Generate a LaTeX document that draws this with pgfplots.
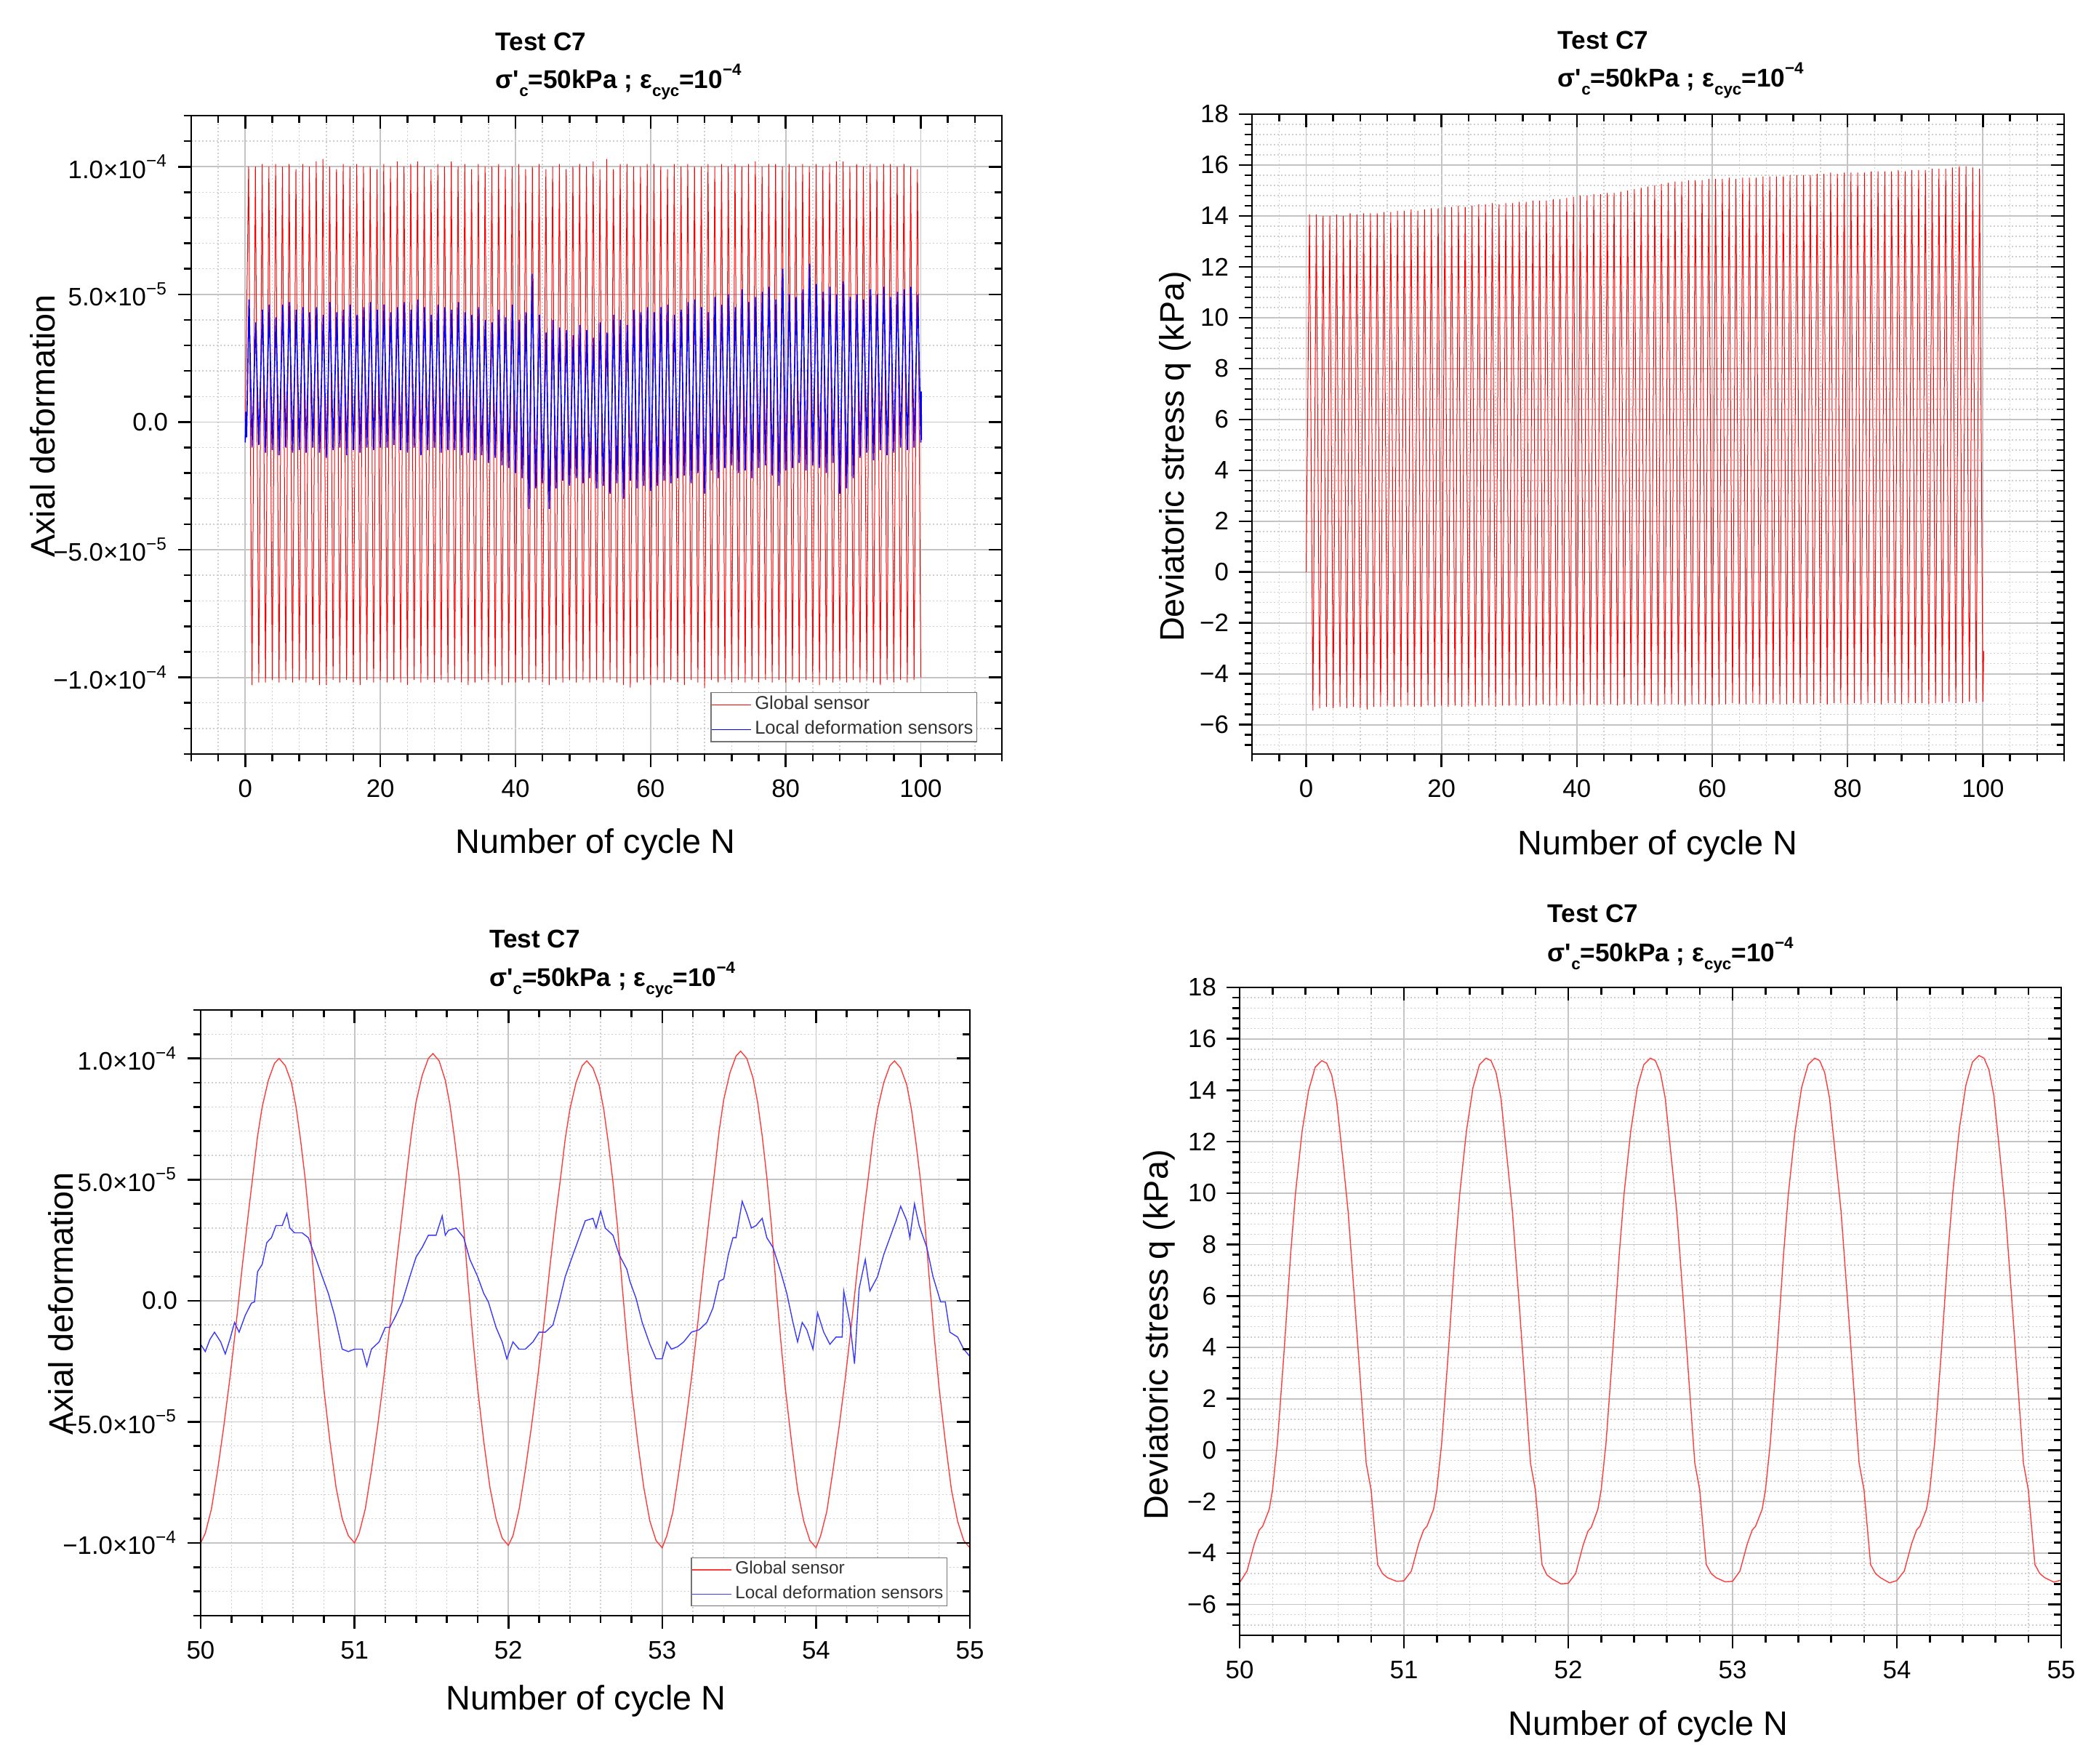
\documentclass[border=0pt]{standalone}
\usepackage{fontspec}
\setmainfont{Liberation Sans}
\usepackage{pgfplots}
\pgfplotsset{compat=1.18}

\definecolor{majgrid}{HTML}{C4C4C4}
\definecolor{mingrid}{HTML}{CFCFCF}
\definecolor{zred}{HTML}{FF3C3C}
\definecolor{zblue}{HTML}{3A3AFF}

\pgfplotsset{
  common/.style={
    scale only axis,
    axis line style={line width=0.65pt, black},
    every tick/.style={line width=0.65pt, black},
    major tick length=4.5pt,
    minor tick length=2.6pt,
    tick label style={font=\fontsize{8.7}{10}\selectfont},
    xticklabel style={yshift=-0.8pt},
    /pgf/number format/assume math mode=true,
  },
  base/.style={
    common,
    tick align=outside,
    xtick pos=bottom, ytick pos=left,
    grid=both,
    major grid style={line width=0.45pt, majgrid},
    minor grid style={line width=0.35pt, mingrid, dash pattern=on 0.45pt off 0.8pt},
    legend cell align=left,
    legend image code/.code={\draw[#1] (0pt,0pt) -- (13.5pt,0pt);},
  },
  over/.style={
    common,
    tick align=inside,
    xtick pos=top, ytick pos=right,
    xticklabels={}, yticklabels={},
    grid=none,
  },
  tlax/.style={
    at={(65.75pt,347.25pt)}, anchor=south west, width=278.75pt, height=219.5pt,
    xmin=-8, xmax=112, ymin=-13, ymax=12,
    xtick={0,20,...,100}, minor xtick={-8,-4,...,112},
    ytick={-10,-5,0,5,10},
    yticklabels={−1.0×10\textsuperscript{−4},−5.0×10\textsuperscript{−5},0.0,5.0×10\textsuperscript{−5},1.0×10\textsuperscript{−4}},
    minor ytick={-13,-12,...,12},
  },
  trax/.style={
    at={(430.5pt,347.25pt)}, anchor=south west, width=279.25pt, height=220pt,
    xmin=-8, xmax=112, ymin=-7.15, ymax=18,
    xtick={0,20,...,100}, minor xtick={-8,-4,...,112},
    ytick={-6,-4,...,18},
    yticklabels={−6,−4,−2,0,2,4,6,8,10,12,14,16,18},
    minor ytick={-6.8,-6.4,...,17.7},
  },
  blax/.style={
    at={(69pt,51pt)}, anchor=south west, width=264.5pt, height=208.25pt,
    xmin=50, xmax=55, ymin=-13, ymax=12,
    xtick={50,51,...,55}, minor xtick={50.2,50.4,...,54.9},
    ytick={-10,-5,0,5,10},
    yticklabels={−1.0×10\textsuperscript{−4},−5.0×10\textsuperscript{−5},0.0,5.0×10\textsuperscript{−5},1.0×10\textsuperscript{−4}},
    minor ytick={-13,-12,...,12},
  },
  brax/.style={
    at={(426.25pt,44.25pt)}, anchor=south west, width=282.5pt, height=222.75pt,
    xmin=50, xmax=55, ymin=-7.2, ymax=18,
    xtick={50,51,...,55}, minor xtick={50.2,50.4,...,54.9},
    ytick={-6,-4,...,18},
    yticklabels={−6,−4,−2,0,2,4,6,8,10,12,14,16,18},
    minor ytick={-6.8,-6.4,...,17.7},
  },
}

\newcommand{\ttl}{\bfseries\fontsize{8.8}{10}\selectfont}
\newcommand{\axl}{\fontsize{11.7}{13}\selectfont}
\newcommand{\sbs}[1]{\raisebox{-0.32em}{\fontsize{5.6}{6}\selectfont #1}}
\newcommand{\sps}[1]{\raisebox{0.5em}{\fontsize{5.6}{6}\selectfont #1}}
\newcommand{\subttl}{σ\textquotesingle\sbs{c}=50kPa ; ε\sbs{cyc}=10\sps{−4}}

\begin{document}
\begin{tikzpicture}
\useasboundingbox (0,0) rectangle (721.75pt,606.5pt);

% ---------------- top left ----------------
\begin{axis}[base, tlax,
  legend style={at={(0.9695,0.0968)}, anchor=north east, draw=black!55, line width=0.35pt,
    font=\fontsize{6.4}{7.2}\selectfont, text=black!80, inner xsep=0pt, inner ysep=0.5pt,
    row sep=1.2pt, nodes={inner xsep=1.2pt, inner ysep=0.6pt}}]
\addplot[red, line width=0.25pt] coordinates {
(0,0)
(0.5,10.0)(1,-10.3)(1.5,10.0)(2,-10.2)(2.5,10.1)(3,-10.2)(3.5,10.0)(4,-10.1)(4.5,10.1)(5,-10.2)(5.5,10.0)(6,-10.1)(6.5,10.1)(7,-10.2)(7.5,9.9)(8,-10.1)(8.5,10.1)(9,-10.2)(9.5,10.0)(10,-10.1)
(10.5,10.2)(11,-10.3)(11.5,10.3)(12,-10.3)(12.5,10.0)(13,-10.1)(13.5,9.9)(14,-10.2)(14.5,10.1)(15,-10.1)(15.5,10.0)(16,-10.2)(16.5,10.1)(17,-10.3)(17.5,10.0)(18,-10.1)(18.5,10.0)(19,-10.2)(19.5,9.9)(20,-10.1)
(20.5,10.1)(21,-10.2)(21.5,10.0)(22,-10.1)(22.5,10.2)(23,-10.2)(23.5,10.0)(24,-10.3)(24.5,10.1)(25,-10.1)(25.5,10.2)(26,-10.2)(26.5,10.0)(27,-10.1)(27.5,9.9)(28,-10.2)(28.5,10.1)(29,-10.1)(29.5,10.0)(30,-10.2)
(30.5,10.2)(31,-10.1)(31.5,10.0)(32,-10.2)(32.5,10.1)(33,-10.3)(33.5,9.9)(34,-10.2)(34.5,10.1)(35,-10.1)(35.5,10.0)(36,-10.2)(36.5,10.0)(37,-10.1)(37.5,10.1)(38,-10.3)(38.5,9.9)(39,-10.2)(39.5,10.0)(40,-10.2)
(40.5,10.1)(41,-10.1)(41.5,9.9)(42,-10.2)(42.5,10.0)(43,-10.1)(43.5,10.1)(44,-10.2)(44.5,9.9)(45,-10.3)(45.5,10.0)(46,-10.1)(46.5,10.1)(47,-10.2)(47.5,9.9)(48,-10.1)(48.5,10.0)(49,-10.2)(49.5,10.1)(50,-10.1)
(50.5,10.0)(51,-10.2)(51.5,10.2)(52,-10.1)(52.5,9.9)(53,-10.2)(53.5,10.3)(54,-10.1)(54.5,9.9)(55,-10.2)(55.5,10.1)(56,-10.3)(56.5,10.1)(57,-10.4)(57.5,10.0)(58,-10.2)(58.5,10.0)(59,-10.1)(59.5,10.1)(60,-10.3)
(60.5,10.1)(61,-10.1)(61.5,10.0)(62,-10.2)(62.5,9.9)(63,-10.1)(63.5,10.1)(64,-10.2)(64.5,10.0)(65,-10.3)(65.5,10.1)(66,-10.1)(66.5,10.0)(67,-10.2)(67.5,10.0)(68,-10.4)(68.5,10.1)(69,-10.1)(69.5,10.0)(70,-10.2)
(70.5,10.1)(71,-10.1)(71.5,10.0)(72,-10.2)(72.5,10.1)(73,-10.1)(73.5,10.0)(74,-10.2)(74.5,10.1)(75,-10.1)(75.5,10.2)(76,-10.2)(76.5,10.0)(77,-10.1)(77.5,10.1)(78,-10.2)(78.5,10.1)(79,-10.1)(79.5,10.0)(80,-10.2)
(80.5,10.1)(81,-10.1)(81.5,10.0)(82,-10.2)(82.5,10.1)(83,-10.1)(83.5,10.0)(84,-10.2)(84.5,10.1)(85,-10.3)(85.5,10.0)(86,-10.1)(86.5,10.1)(87,-10.2)(87.5,10.2)(88,-10.1)(88.5,10.2)(89,-10.2)(89.5,10.0)(90,-10.1)
(90.5,10.1)(91,-10.2)(91.5,10.0)(92,-10.1)(92.5,10.1)(93,-10.2)(93.5,10.0)(94,-10.3)(94.5,10.1)(95,-10.1)(95.5,10.1)(96,-10.2)(96.5,10.0)(97,-10.1)(97.5,10.1)(98,-10.2)(98.5,10.0)(99,-10.1)(99.5,9.9)(100,-10.0)
};
\addlegendentry{Global sensor}
\addplot[blue, line width=0.4pt] coordinates {
(0,-0.8)(0.1,0.4)(0.2,-0.6)
(0.55,4.8)(1,-1.0)(1.55,3.9)(2,-0.9)(2.55,4.4)(3,-1.2)(3.55,4.6)(4,-1.1)(4.55,4.1)(5,-1.3)(5.55,4.6)(6,-1.0)(6.55,4.7)(7,-1.2)(7.55,4.4)(8,-1.1)(8.55,4.5)(9,-1.2)(9.55,4.3)(10,-1.0)
(10.55,4.5)(11,-1.2)(11.55,4.2)(12,-1.4)(12.55,4.7)(13,-1.1)(13.55,4.3)(14,-1.0)(14.55,4.4)(15,-1.3)(15.55,4.6)(16,-1.1)(16.55,4.2)(17,-1.2)(17.55,4.5)(18,-1.0)(18.55,4.7)(19,-1.1)(19.55,4.4)(20,-1.0)
(20.55,4.6)(21,-1.0)(21.55,4.3)(22,-0.9)(22.55,4.5)(23,-1.1)(23.55,4.7)(24,-1.2)(24.55,4.4)(25,-1.0)(25.55,4.8)(26,-1.3)(26.55,4.5)(27,-1.1)(27.55,4.2)(28,-1.0)(28.55,4.6)(29,-1.2)(29.55,4.5)(30,-1.1)
(30.55,4.4)(31,-1.1)(31.55,4.7)(32,-1.3)(32.55,4.3)(33,-1.2)(33.55,4.2)(34,-1.5)(34.55,4.5)(35,-1.3)(35.55,4.0)(36,-1.6)(36.55,3.9)(37,-1.4)(37.55,4.4)(38,-1.7)(38.55,4.1)(39,-1.8)(39.55,4.6)(40,-2.0)
(40.55,4.0)(41,-2.2)(41.55,4.3)(42,-3.4)(42.45,5.8)(43,-2.6)(43.55,4.2)(44,-2.4)(44.55,3.5)(45,-3.4)(45.55,4.0)(46,-2.6)(46.55,3.7)(47,-2.3)(47.55,3.6)(48,-2.5)(48.55,3.4)(49,-2.2)(49.55,3.8)(50,-2.4)
(50.55,3.6)(51,-2.2)(51.55,3.3)(52,-2.6)(52.55,3.9)(53,-2.5)(53.55,3.5)(54,-2.8)(54.55,4.2)(55,-2.4)(55.55,4.0)(56,-3.0)(56.55,3.8)(57,-2.3)(57.55,4.4)(58,-2.6)(58.55,4.3)(59,-2.5)(59.55,4.5)(60,-2.7)
(60.55,4.3)(61,-2.5)(61.55,4.5)(62,-2.3)(62.55,4.6)(63,-2.4)(63.55,4.2)(64,-2.2)(64.55,4.4)(65,-2.1)(65.55,4.7)(66,-2.4)(66.55,4.8)(67,-2.0)(67.55,4.5)(68,-2.8)(68.55,4.3)(69,-1.9)(69.55,4.9)(70,-2.2)
(70.55,4.6)(71,-1.8)(71.55,5.0)(72,-1.7)(72.55,4.5)(73,-2.0)(73.55,5.2)(74,-1.9)(74.55,4.7)(75,-2.2)(75.55,4.9)(76,-1.8)(76.55,5.1)(77,-1.7)(77.55,5.3)(78,-2.1)(78.55,4.8)(79,-2.5)(79.55,6.0)(80,-1.9)
(80.55,5.0)(81,-1.8)(81.55,4.9)(82,-1.6)(82.55,5.2)(83,-1.9)(83.55,6.2)(84,-1.7)(84.55,5.4)(85,-1.8)(85.55,5.1)(86,-2.0)(86.55,5.3)(87,-1.6)(87.55,5.0)(88,-2.8)(88.55,5.5)(89,-2.6)(89.55,4.9)(90,-2.2)
(90.55,5.0)(91,-1.4)(91.55,4.8)(92,-1.2)(92.55,5.2)(93,-1.5)(93.55,5.0)(94,-1.1)(94.55,5.3)(95,-1.3)(95.55,4.9)(96,-1.2)(96.55,5.1)(97,-1.0)(97.55,5.2)(98,-1.1)(98.55,5.3)(99,-1.0)(99.55,5.0)(100,-0.8)
(100.05,1.2)(100.1,-0.7)
};
\addlegendentry{Local deformation sensors}
\end{axis}
\begin{axis}[tlax, over]\end{axis}

% ---------------- top right ----------------
\begin{axis}[base, trax]
\addplot[red, line width=0.25pt] coordinates {
(0,0)
(0.5,14.05)(1,-5.45)(1.5,14.05)(2,-5.35)(2.5,14.0)(3,-5.3)(3.5,14.0)(4,-5.35)(4.5,14.05)(5,-5.3)(5.5,14.0)(6,-5.35)(6.5,14.1)(7,-5.3)(7.5,14.05)(8,-5.35)(8.5,14.1)(9,-5.4)(9.5,14.1)(10,-5.3)
(10.5,14.1)(11,-5.3)(11.5,14.15)(12,-5.25)(12.5,14.15)(13,-5.3)(13.5,14.2)(14,-5.3)(14.5,14.2)(15,-5.25)(15.5,14.25)(16,-5.3)(16.5,14.2)(17,-5.3)(17.5,14.25)(18,-5.25)(18.5,14.3)(19,-5.3)(19.5,14.3)(20,-5.25)
(20.5,14.35)(21,-5.3)(21.5,14.35)(22,-5.25)(22.5,14.4)(23,-5.3)(23.5,14.35)(24,-5.25)(24.5,14.4)(25,-5.3)(25.5,14.45)(26,-5.25)(26.5,14.45)(27,-5.25)(27.5,14.5)(28,-5.3)(28.5,14.45)(29,-5.25)(29.5,14.5)(30,-5.25)
(30.5,14.5)(31,-5.25)(31.5,14.55)(32,-5.3)(32.5,14.55)(33,-5.25)(33.5,14.6)(34,-5.25)(34.5,14.6)(35,-5.2)(35.5,14.6)(36,-5.25)(36.5,14.65)(37,-5.25)(37.5,14.65)(38,-5.2)(38.5,14.7)(39,-5.25)(39.5,14.75)(40,-5.2)
(40.5,14.8)(41,-5.25)(41.5,14.8)(42,-5.2)(42.5,14.85)(43,-5.25)(43.5,14.85)(44,-5.2)(44.5,14.9)(45,-5.2)(45.5,14.9)(46,-5.25)(46.5,14.95)(47,-5.2)(47.5,15.0)(48,-5.2)(48.5,15.05)(49,-5.25)(49.5,15.1)(50,-5.2)
(50.5,15.15)(51,-5.2)(51.5,15.2)(52,-5.25)(52.5,15.25)(53,-5.2)(53.5,15.3)(54,-5.2)(54.5,15.35)(55,-5.2)(55.5,15.35)(56,-5.25)(56.5,15.4)(57,-5.2)(57.5,15.4)(58,-5.2)(58.5,15.4)(59,-5.2)(59.5,15.45)(60,-5.25)
(60.5,15.45)(61,-5.2)(61.5,15.45)(62,-5.2)(62.5,15.5)(63,-5.15)(63.5,15.45)(64,-5.2)(64.5,15.5)(65,-5.2)(65.5,15.5)(66,-5.15)(66.5,15.5)(67,-5.2)(67.5,15.55)(68,-5.2)(68.5,15.55)(69,-5.15)(69.5,15.55)(70,-5.2)
(70.5,15.55)(71,-5.2)(71.5,15.6)(72,-5.15)(72.5,15.6)(73,-5.2)(73.5,15.6)(74,-5.15)(74.5,15.6)(75,-5.2)(75.5,15.65)(76,-5.15)(76.5,15.65)(77,-5.2)(77.5,15.7)(78,-5.15)(78.5,15.65)(79,-5.15)(79.5,15.7)(80,-5.2)
(80.5,15.7)(81,-5.15)(81.5,15.7)(82,-5.2)(82.5,15.7)(83,-5.15)(83.5,15.75)(84,-5.15)(84.5,15.75)(85,-5.2)(85.5,15.75)(86,-5.15)(86.5,15.75)(87,-5.15)(87.5,15.8)(88,-5.2)(88.5,15.75)(89,-5.15)(89.5,15.8)(90,-5.15)
(90.5,15.8)(91,-5.15)(91.5,15.8)(92,-5.2)(92.5,15.85)(93,-5.15)(93.5,15.85)(94,-5.15)(94.5,15.85)(95,-5.1)(95.5,15.9)(96,-5.15)(96.5,15.95)(97,-5.15)(97.5,15.95)(98,-5.1)(98.5,15.9)(99,-5.15)(99.5,15.85)(100,-5.1)
(100.12,-3.1)
};
\end{axis}
\begin{axis}[trax, over]\end{axis}

% ---------------- bottom left ----------------
\begin{axis}[base, blax,
  legend style={at={(0.9707,0.096)}, anchor=north east, draw=black!55, line width=0.35pt,
    font=\fontsize{6.1}{7}\selectfont, text=black!80, inner xsep=0pt, inner ysep=0.5pt,
    row sep=1.2pt, nodes={inner xsep=1.2pt, inner ysep=0.6pt}}]
\addplot[zred, line width=0.35pt] coordinates {
(50,-10.0)(50.03,-9.6)(50.07,-8.6)(50.11,-7.0)(50.15,-5.2)(50.19,-3.2)(50.23,-1.0)(50.27,1.4)(50.31,3.6)(50.34,5.2)(50.37,6.8)(50.40,8.0)(50.44,9.1)(50.48,9.8)(50.51,10.0)(50.55,9.7)(50.59,9.0)(50.62,8.0)(50.65,6.6)(50.68,5.0)(50.71,3.0)(50.74,0.6)(50.77,-1.6)(50.80,-3.6)(50.84,-5.8)(50.88,-7.7)(50.92,-9.0)(50.96,-9.7)
(51,-10.0)(51.03,-9.6)(51.07,-8.6)(51.11,-7.0)(51.15,-5.2)(51.19,-3.2)(51.23,-1.0)(51.27,1.4)(51.31,3.6)(51.34,5.3)(51.37,6.9)(51.40,8.2)(51.44,9.3)(51.48,10.0)(51.51,10.2)(51.55,9.9)(51.59,9.1)(51.62,8.1)(51.65,6.7)(51.68,5.1)(51.71,3.0)(51.74,0.6)(51.77,-1.6)(51.80,-3.6)(51.84,-5.8)(51.88,-7.7)(51.92,-9.0)(51.96,-9.8)
(52,-10.1)(52.03,-9.7)(52.07,-8.6)(52.11,-7.0)(52.15,-5.2)(52.19,-3.2)(52.23,-1.0)(52.27,1.4)(52.31,3.6)(52.34,5.1)(52.37,6.7)(52.40,7.9)(52.44,9.0)(52.48,9.7)(52.51,9.9)(52.55,9.6)(52.59,8.9)(52.62,7.9)(52.65,6.5)(52.68,4.9)(52.71,3.0)(52.74,0.6)(52.77,-1.6)(52.80,-3.6)(52.84,-5.8)(52.88,-7.7)(52.92,-9.1)(52.96,-9.9)
(53,-10.2)(53.03,-9.7)(53.07,-8.7)(53.11,-7.0)(53.15,-5.2)(53.19,-3.2)(53.23,-1.0)(53.27,1.4)(53.31,3.7)(53.34,5.3)(53.37,7.0)(53.40,8.3)(53.44,9.4)(53.48,10.1)(53.51,10.3)(53.55,10.0)(53.59,9.2)(53.62,8.2)(53.65,6.8)(53.68,5.1)(53.71,3.1)(53.74,0.6)(53.77,-1.6)(53.80,-3.6)(53.84,-5.8)(53.88,-7.8)(53.92,-9.1)(53.96,-9.9)
(54,-10.2)(54.03,-9.7)(54.07,-8.7)(54.11,-7.0)(54.15,-5.2)(54.19,-3.2)(54.23,-1.0)(54.27,1.4)(54.31,3.6)(54.34,5.1)(54.37,6.7)(54.40,7.9)(54.44,9.0)(54.48,9.7)(54.51,9.9)(54.55,9.6)(54.59,8.9)(54.62,7.9)(54.65,6.5)(54.68,4.9)(54.71,3.0)(54.74,0.6)(54.77,-1.6)(54.80,-3.6)(54.84,-5.8)(54.88,-7.8)(54.92,-9.1)(54.96,-9.9)
(55,-10.2)
};
\addlegendentry{Global sensor}
\addplot[zblue, line width=0.35pt] coordinates {
(50.0,-1.8)(50.03,-2.1)(50.06,-1.6)(50.09,-1.3)(50.13,-1.7)(50.16,-2.2)(50.19,-1.6)(50.22,-0.9)(50.25,-1.3)(50.29,-0.6)(50.33,-0.1)(50.35,-0.05)(50.37,1.2)(50.40,1.5)(50.43,2.4)(50.46,2.6)(50.49,3.1)(50.53,3.1)(50.56,3.6)(50.58,3.0)(50.61,2.8)(50.66,2.8)(50.70,2.6)(50.74,1.9)(50.79,1.0)(50.83,0.3)(50.87,-0.6)(50.92,-2.0)(50.96,-2.1)
(51.0,-2.0)(51.05,-2.0)(51.08,-2.7)(51.11,-2.0)(51.16,-1.7)(51.20,-1.1)(51.23,-1.1)(51.27,-0.6)(51.31,-0.05)(51.36,1.0)(51.40,1.8)(51.44,2.2)(51.48,2.7)(51.53,2.7)(51.57,3.5)(51.59,2.7)(51.61,2.9)(51.66,3.0)(51.71,2.6)(51.75,1.7)(51.80,1.0)(51.84,0.3)(51.87,-0.05)(51.92,-1.1)(51.96,-1.7)(51.99,-2.4)
(52.03,-1.7)(52.07,-2.0)(52.11,-2.0)(52.16,-1.7)(52.20,-1.3)(52.24,-1.3)(52.29,-1.0)(52.33,-0.05)(52.37,1.0)(52.42,1.9)(52.46,2.6)(52.50,3.3)(52.55,3.4)(52.57,3.0)(52.60,3.7)(52.63,3.0)(52.68,2.7)(52.72,1.9)(52.77,1.3)(52.79,0.8)(52.83,0.1)(52.87,-0.9)(52.92,-1.8)(52.96,-2.4)
(53.0,-2.4)(53.03,-1.7)(53.06,-2.0)(53.10,-1.9)(53.14,-1.7)(53.19,-1.3)(53.24,-1.2)(53.29,-0.9)(53.33,-0.3)(53.37,0.8)(53.40,0.9)(53.43,1.9)(53.46,2.6)(53.48,2.6)(53.52,4.1)(53.55,3.6)(53.58,3.0)(53.61,3.1)(53.65,3.4)(53.68,2.6)(53.72,2.2)(53.77,1.2)(53.81,0.3)(53.85,-0.9)(53.88,-1.7)(53.91,-0.9)(53.94,-1.2)(53.98,-2.0)
(54.01,-0.5)(54.05,-1.3)(54.09,-1.8)(54.13,-1.5)(54.17,-1.5)(54.18,0.4)(54.22,-0.9)(54.25,-2.6)(54.28,0.5)(54.32,1.7)(54.35,0.4)(54.40,1.0)(54.44,1.9)(54.48,2.6)(54.52,3.3)(54.55,3.9)(54.59,3.3)(54.61,2.6)(54.64,4.0)(54.67,3.1)(54.72,2.2)(54.76,1.0)(54.81,-0.05)(54.84,-0.05)(54.87,-1.3)(54.92,-1.5)(54.96,-2.0)(55.0,-2.3)
};
\addlegendentry{Local deformation sensors}
\end{axis}
\begin{axis}[blax, over]\end{axis}

% ---------------- bottom right ----------------
\begin{axis}[base, brax]
\addplot[zred, line width=0.35pt] coordinates {
(50,-5.15)(50.045,-4.7)(50.09,-3.63)(50.12,-3.1)(50.14,-2.96)(50.18,-2.3)(50.20,-1.55)(50.23,0.3)(50.27,3.8)(50.31,7.6)(50.34,10.0)(50.38,12.4)(50.42,14.0)(50.46,14.9)(50.50,15.15)(50.53,15.05)(50.56,14.6)(50.59,13.6)(50.63,11.2)(50.66,9.3)(50.70,5.8)(50.74,2.2)(50.77,-0.5)(50.80,-1.55)(50.82,-3.0)(50.84,-4.45)(50.87,-4.8)(50.90,-4.96)(50.955,-5.1)
(51,-5.08)(51.045,-4.7)(51.09,-3.63)(51.12,-3.1)(51.14,-2.96)(51.18,-2.3)(51.20,-1.55)(51.23,0.3)(51.27,3.8)(51.31,7.6)(51.34,10.0)(51.38,12.4)(51.42,14.1)(51.46,15.0)(51.50,15.25)(51.53,15.15)(51.56,14.7)(51.59,13.7)(51.63,11.2)(51.66,9.3)(51.70,5.8)(51.74,2.2)(51.77,-0.5)(51.80,-1.55)(51.82,-3.0)(51.84,-4.45)(51.87,-4.85)(51.90,-5.0)(51.955,-5.2)
(52,-5.18)(52.045,-4.8)(52.09,-3.7)(52.12,-3.15)(52.14,-3.0)(52.18,-2.3)(52.20,-1.55)(52.23,0.3)(52.27,3.8)(52.31,7.6)(52.34,10.0)(52.38,12.4)(52.42,14.1)(52.46,15.0)(52.50,15.25)(52.53,15.15)(52.56,14.7)(52.59,13.7)(52.63,11.2)(52.66,9.3)(52.70,5.8)(52.74,2.2)(52.77,-0.5)(52.80,-1.55)(52.82,-3.0)(52.84,-4.45)(52.87,-4.8)(52.90,-4.96)(52.955,-5.12)
(53,-5.1)(53.045,-4.7)(53.09,-3.63)(53.12,-3.1)(53.14,-2.96)(53.18,-2.3)(53.20,-1.55)(53.23,0.3)(53.27,3.8)(53.31,7.6)(53.34,10.0)(53.38,12.4)(53.42,14.1)(53.46,15.0)(53.50,15.25)(53.53,15.15)(53.56,14.7)(53.59,13.7)(53.63,11.2)(53.66,9.3)(53.70,5.8)(53.74,2.2)(53.77,-0.5)(53.80,-1.55)(53.82,-3.0)(53.84,-4.45)(53.87,-4.8)(53.90,-4.96)(53.955,-5.16)
(54,-5.07)(54.045,-4.7)(54.09,-3.63)(54.12,-3.1)(54.14,-2.96)(54.18,-2.3)(54.20,-1.55)(54.23,0.3)(54.27,3.8)(54.31,7.6)(54.34,10.0)(54.38,12.5)(54.42,14.2)(54.46,15.1)(54.50,15.35)(54.53,15.25)(54.56,14.8)(54.59,13.8)(54.63,11.3)(54.66,9.3)(54.70,5.8)(54.74,2.2)(54.77,-0.5)(54.80,-1.55)(54.82,-3.0)(54.84,-4.45)(54.87,-4.8)(54.90,-4.96)(54.955,-5.13)
(55,-5.05)
};
\end{axis}
\begin{axis}[brax, over]\end{axis}

% ---------------- titles and labels ----------------
\tikzset{tt/.style={anchor=base west, inner sep=0pt, font=\ttl}}
\node[tt] at (170.25pt,589.1pt) {Test C7};
\node[tt] at (170.25pt,576.1pt) {\subttl};
\node[tt] at (535.5pt,589.6pt) {Test C7};
\node[tt] at (535.5pt,576.6pt) {\subttl};
\node[tt] at (168.1pt,280.6pt) {Test C7};
\node[tt] at (168.1pt,267.35pt) {\subttl};
\node[tt] at (532pt,289.35pt) {Test C7};
\node[tt] at (532pt,275.85pt) {\subttl};

\node[anchor=base, rotate=90, font=\axl] at (18.8pt,460pt) {Axial deformation};
\node[anchor=base, rotate=90, font=\axl] at (407.2pt,449.5pt) {Deviatoric stress q (kPa)};
\node[anchor=base, rotate=90, font=\axl] at (25.2pt,158.25pt) {Axial deformation};
\node[anchor=base, rotate=90, font=\axl] at (401.7pt,147.5pt) {Deviatoric stress q (kPa)};

\node[anchor=base, font=\axl] at (204.75pt,313.05pt) {Number of cycle N};
\node[anchor=base, font=\axl] at (570pt,312.55pt) {Number of cycle N};
\node[anchor=base, font=\axl] at (201.5pt,18.5pt) {Number of cycle N};
\node[anchor=base, font=\axl] at (566.75pt,9.8pt) {Number of cycle N};
\end{tikzpicture}
\end{document}
